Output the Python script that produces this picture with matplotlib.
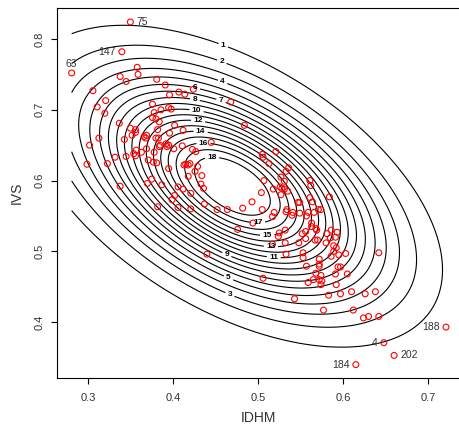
import numpy as np
import matplotlib
matplotlib.use("Agg")
import matplotlib.pyplot as plt

plt.rcParams["font.family"] = ["Liberation Sans", "DejaVu Sans"]

# municipalities, unlabelled
idhm = [
    0.358, 0.359, 0.338, 0.345, 0.381, 0.391, 0.306, 0.321, 0.311, 0.320,
    0.396, 0.407, 0.414, 0.424, 0.376, 0.378, 0.386, 0.395, 0.398, 0.376,
    0.380, 0.384, 0.337, 0.350, 0.356, 0.356, 0.352, 0.343, 0.313, 0.382,
    0.402, 0.396, 0.412, 0.366, 0.368, 0.369, 0.380, 0.383, 0.302, 0.357,
    0.354, 0.356, 0.363, 0.369, 0.384, 0.385, 0.392, 0.393, 0.395, 0.401,
    0.411, 0.378, 0.332, 0.345, 0.371, 0.377, 0.381, 0.323, 0.395, 0.299,
    0.413, 0.423, 0.427, 0.445, 0.415, 0.420, 0.418, 0.429, 0.418, 0.426,
    0.434, 0.433, 0.436, 0.370, 0.375, 0.338, 0.387, 0.406, 0.412, 0.421,
    0.402, 0.399, 0.382, 0.406, 0.437, 0.421, 0.452, 0.464, 0.440, 0.468,
    0.484, 0.521, 0.505, 0.506, 0.513, 0.536, 0.533, 0.527, 0.507, 0.531,
    0.561, 0.562, 0.518, 0.526, 0.528, 0.531, 0.535, 0.527, 0.504, 0.493,
    0.547, 0.549, 0.561, 0.564, 0.584, 0.482, 0.505, 0.519, 0.534, 0.533,
    0.541, 0.549, 0.559, 0.566, 0.571, 0.574, 0.557, 0.517, 0.540, 0.494,
    0.476, 0.525, 0.524, 0.532, 0.517, 0.532, 0.548, 0.552, 0.556, 0.563,
    0.563, 0.569, 0.568, 0.556, 0.567, 0.570, 0.586, 0.581, 0.593, 0.591,
    0.585, 0.580, 0.589, 0.592, 0.589, 0.586, 0.595, 0.603, 0.642, 0.553,
    0.553, 0.533, 0.572, 0.572, 0.572, 0.557, 0.594, 0.597, 0.591, 0.605,
    0.568, 0.574, 0.565, 0.572, 0.575, 0.559, 0.574, 0.592, 0.506, 0.610,
    0.597, 0.583, 0.626, 0.638, 0.543, 0.577, 0.612, 0.624, 0.630, 0.642,
]
ivs = [
    0.760, 0.750, 0.747, 0.740, 0.743, 0.735, 0.727, 0.713, 0.704, 0.695,
    0.721, 0.725, 0.722, 0.729, 0.708, 0.696, 0.700, 0.703, 0.701, 0.689,
    0.687, 0.683, 0.681, 0.674, 0.672, 0.668, 0.664, 0.658, 0.660, 0.672,
    0.678, 0.667, 0.671, 0.662, 0.660, 0.664, 0.660, 0.660, 0.650, 0.643,
    0.638, 0.635, 0.640, 0.645, 0.648, 0.650, 0.652, 0.648, 0.650, 0.645,
    0.649, 0.640, 0.633, 0.634, 0.629, 0.626, 0.625, 0.624, 0.617, 0.623,
    0.622, 0.644, 0.641, 0.654, 0.623, 0.624, 0.622, 0.620, 0.606, 0.613,
    0.607, 0.595, 0.589, 0.596, 0.602, 0.592, 0.594, 0.591, 0.588, 0.582,
    0.579, 0.573, 0.563, 0.562, 0.567, 0.560, 0.559, 0.559, 0.496, 0.711,
    0.678, 0.641, 0.637, 0.633, 0.624, 0.618, 0.613, 0.605, 0.600, 0.599,
    0.600, 0.593, 0.588, 0.591, 0.589, 0.588, 0.585, 0.580, 0.583, 0.570,
    0.569, 0.569, 0.576, 0.570, 0.577, 0.561, 0.559, 0.555, 0.559, 0.556,
    0.555, 0.554, 0.555, 0.555, 0.559, 0.559, 0.550, 0.549, 0.551, 0.540,
    0.531, 0.526, 0.521, 0.530, 0.510, 0.512, 0.512, 0.525, 0.528, 0.535,
    0.540, 0.530, 0.532, 0.518, 0.516, 0.516, 0.530, 0.525, 0.527, 0.520,
    0.519, 0.512, 0.508, 0.505, 0.500, 0.493, 0.495, 0.497, 0.498, 0.498,
    0.491, 0.496, 0.489, 0.482, 0.479, 0.479, 0.478, 0.478, 0.468, 0.468,
    0.469, 0.466, 0.460, 0.460, 0.458, 0.456, 0.453, 0.453, 0.462, 0.443,
    0.440, 0.438, 0.440, 0.443, 0.433, 0.417, 0.417, 0.406, 0.408, 0.408,
]

# outliers with their ids
out_ids = ["75", "147", "63", "188", "4", "202", "184"]
out_idhm = [0.350, 0.340, 0.281, 0.721, 0.648, 0.660, 0.615]
out_ivs = [0.824, 0.782, 0.752, 0.393, 0.371, 0.353, 0.340]
out_side = ["right", "left", "top", "left", "left", "right", "left"]

# density surface behind the points (bivariate normal)
dens_mean = (0.470, 0.592)
dens_sd = (0.101, 0.093)
dens_rho = -0.52

levels = list(range(1, 19))
# where each contour label sits
lab_x = [0.457, 0.457, 0.460, 0.459, 0.460, 0.426, 0.458, 0.426, 0.460,
         0.428, 0.518, 0.430, 0.515, 0.433, 0.511, 0.436, 0.500, 0.446]
lab_y = [0.784, 0.766, 0.418, 0.741, 0.447, 0.729, 0.718, 0.715, 0.486,
         0.701, 0.482, 0.688, 0.498, 0.674, 0.517, 0.656, 0.542, 0.632]

x = np.array(idhm + out_idhm)
y = np.array(ivs + out_ivs)

# grid over the range of the data
gx = np.linspace(x.min(), x.max(), 120)
gy = np.linspace(y.min(), y.max(), 120)
GX, GY = np.meshgrid(gx, gy)
sx, sy = dens_sd
zx = (GX - dens_mean[0]) / sx
zy = (GY - dens_mean[1]) / sy
q = (zx ** 2 - 2 * dens_rho * zx * zy + zy ** 2) / (1 - dens_rho ** 2)
Z = np.exp(-q / 2) / (2 * np.pi * sx * sy * np.sqrt(1 - dens_rho ** 2))

fig = plt.figure(figsize=(4.59, 4.30), dpi=100)
ax = fig.add_axes([0.1235, 0.1202, 0.8808, 0.8605])

for lev, lx, ly in zip(levels, lab_x, lab_y):
    if lev >= Z.max():
        continue
    cs = ax.contour(GX, GY, Z, levels=[lev], colors="black", linewidths=0.8)
    lbl = cs.clabel(manual=[(lx, ly)], inline=True, inline_spacing=3,
                    fmt="%d", fontsize=6)
    for t in lbl:
        t.set_fontweight("bold")
        t.set_rotation(0)

ax.scatter(x, y, s=18, facecolors="none", edgecolors="#ff0000",
           linewidths=0.8, zorder=3)

for name, px, py, side in zip(out_ids, out_idhm, out_ivs, out_side):
    if side == "right":
        off, ha = (4.5, 0), "left"
    elif side == "left":
        off, ha = (-4.5, 0), "right"
    else:
        off, ha = (0, 6.5), "center"
    ax.annotate(name, (px, py), xytext=off, textcoords="offset points",
                ha=ha, va="center", fontsize=7.5, color="#333333")

dx = (x.max() - x.min()) * 0.04
dy = (y.max() - y.min()) * 0.04
ax.set_xlim(x.min() - dx, x.max() + dx)
ax.set_ylim(y.min() - dy, y.max() + dy)
ax.set_xticks([0.3, 0.4, 0.5, 0.6, 0.7])
ax.set_yticks([0.4, 0.5, 0.6, 0.7, 0.8])
ax.tick_params(axis="both", direction="out", length=4.5, width=0.8,
               labelsize=8, labelcolor="#333333")
ax.tick_params(axis="x", pad=6)
ax.tick_params(axis="y", pad=4.5)
for t in ax.get_yticklabels():
    t.set_rotation(90)
    t.set_va("center")
for s in ax.spines.values():
    s.set_linewidth(0.8)

ax.set_xlabel("IDHM", fontsize=10, color="#333333")
ax.set_ylabel("IVS", fontsize=10, color="#333333")
ax.xaxis.set_label_coords(0.5, -0.107)
ax.xaxis.label.set_va("center")
ax.yaxis.set_label_coords(-0.098, 0.5)
ax.yaxis.label.set_va("center")

fig.savefig("out.png", dpi=100)
